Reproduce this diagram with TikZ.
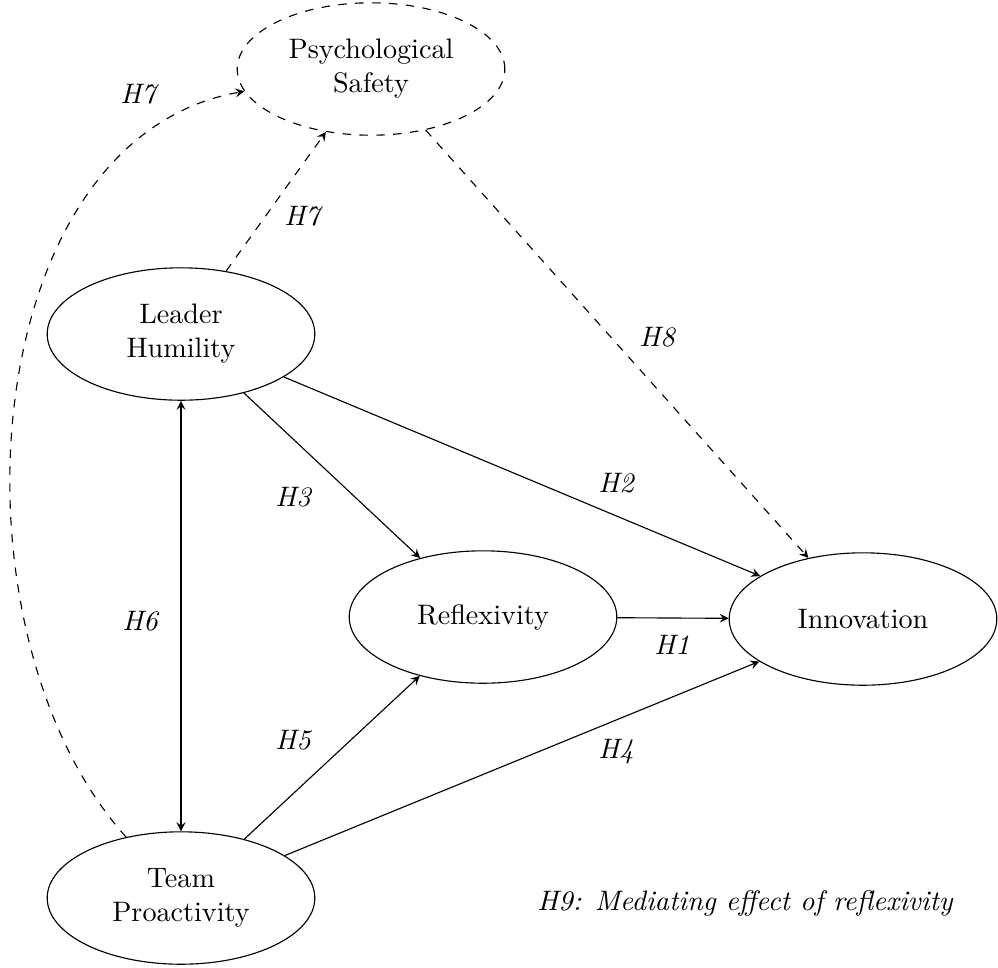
\documentclass[tikz,border=0pt]{standalone}
\usetikzlibrary{shapes.geometric}
\begin{document}
\begin{tikzpicture}[x=0.355pt, y=-0.355pt,
  construct/.style={ellipse, draw, align=center, minimum width=95pt, minimum height=47pt, inner sep=0pt},
  latent/.style={construct, dashed},
  path/.style={-stealth},
  mediated/.style={-stealth, dashed},
  hyp/.style={font=\itshape, inner sep=0pt}]
  \useasboundingbox (0,0) rectangle (998,967);

  % constructs
  \node[latent]    (ps) at (371,69)  {Psychological\\Safety};
  \node[construct] (lh) at (181,334) {Leader\\Humility};
  \node[construct] (rf) at (483,617) {Reflexivity};
  \node[construct] (in) at (863,619) {Innovation};
  \node[construct] (tp) at (181,898) {Team\\Proactivity};

  % direct paths
  \draw[path] (rf) -- (in);
  \draw[path] (lh) -- (in);
  \draw[path] (lh) -- (rf);
  \draw[path] (tp) -- (in);
  \draw[path] (tp) -- (rf);
  \draw[stealth-stealth] (lh) -- (tp);

  % paths through psychological safety
  \draw[mediated] (lh) -- (ps);
  \draw[mediated] (ps) -- (in);
  \draw[mediated] (tp) to[out=132, in=190, looseness=0.93] (ps);

  % hypothesis labels
  \node[hyp] (h1)  at (672,645) {H1};
  \node[hyp] (h2)  at (616,483) {H2};
  \node[hyp] (h3)  at (293,497) {H3};
  \node[hyp] (h4)  at (616,752) {H4};
  \node[hyp] (h5)  at (293,740) {H5};
  \node[hyp] (h6)  at (140,621) {H6};
  \node[hyp] (h7a) at (302,216) {H7};
  \node[hyp] (h7b) at (138,94)  {H7};
  \node[hyp] (h8)  at (657,337) {H8};
  \node[hyp] (h9)  at (745,903) {H9: Mediating effect of reflexivity};
\end{tikzpicture}
\end{document}
